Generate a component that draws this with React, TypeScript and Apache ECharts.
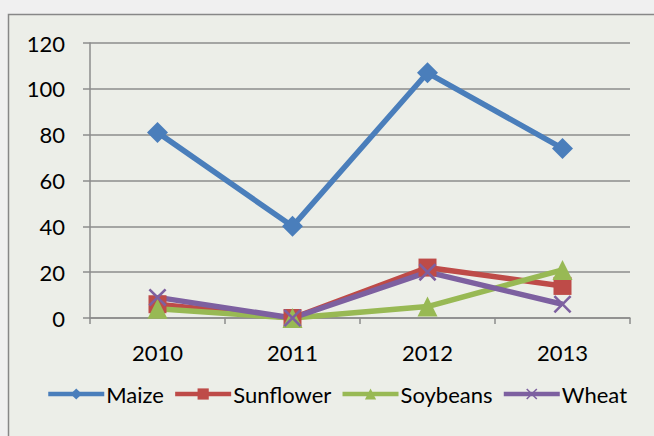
import React, { useEffect, useRef } from "react";
import * as echarts from "echarts";

const categories = ["2010", "2011", "2012", "2013"];
const maize = [81, 40, 107, 74];
const sunflower = [6, 0, 22, 14];
const soybeans = [4, 0, 5, 21];
const wheat = [9, 0, 20, 6];
const seriesNames = ["Maize", "Sunflower", "Soybeans", "Wheat"];

const X_PATH =
  "path://M0,1 L1,0 L5,4 L9,0 L10,1 L6,5 L10,9 L9,10 L5,6 L1,10 L0,9 L4,5 Z";

export default function App() {
  const ref = useRef<HTMLDivElement>(null);
  useEffect(() => {
    if (!ref.current) return;
    const chart = echarts.init(ref.current, null, { renderer: "svg" });
    const font = "Lato, 'Open Sans', sans-serif";
    const mk = (
      name: string,
      data: number[],
      color: string,
      symbol: string,
      size: number
    ) => ({
      name,
      type: "line",
      data,
      symbol,
      symbolSize: size,
      showAllSymbol: true,
      lineStyle: { color, width: 5.5 },
      itemStyle: { color },
      z: 3,
    });
    chart.setOption({
      animation: false,
      backgroundColor: "#f0f0f0",
      textStyle: { fontFamily: font },
      graphic: [
        {
          type: "rect",
          shape: { x: 8.5, y: 14.5, width: 700, height: 500 },
          style: { fill: "#eceee8", stroke: "#878787", lineWidth: 1.5 },
          z: -10,
        },
      ],
      grid: { left: 90, right: 24, top: 43, bottom: 118 },
      xAxis: {
        type: "category",
        data: categories,
        boundaryGap: true,
        axisLine: { lineStyle: { color: "#8c8c8c", width: 1.5 } },
        axisTick: {
          show: true,
          length: 6,
          inside: false,
          lineStyle: { color: "#8c8c8c", width: 1.5 },
        },
        axisLabel: { color: "#000", fontSize: 22, margin: 23, fontFamily: font },
      },
      yAxis: {
        type: "value",
        min: 0,
        max: 120,
        interval: 20,
        axisLine: { show: true, lineStyle: { color: "#8c8c8c", width: 1.5 } },
        axisTick: {
          show: true,
          length: 7,
          lineStyle: { color: "#8c8c8c", width: 1.5 },
        },
        splitLine: { lineStyle: { color: "#8c8c8c", width: 1.5 } },
        axisLabel: { color: "#000", fontSize: 22, margin: 25, fontFamily: font },
      },
      legend: {
        data: seriesNames,
        top: 383,
        left: 46,
        padding: 0,
        itemWidth: 56,
        itemHeight: 14,
        itemGap: 9,
        lineStyle: { width: 4.5 },
        textStyle: {
          color: "#000",
          fontSize: 22,
          fontFamily: font,
          padding: [0, 0, 0, -3],
        },
      },
      series: [
        mk(seriesNames[0], maize, "#4a7ebb", "diamond", 21),
        mk(seriesNames[1], sunflower, "#be4b48", "rect", 18),
        mk(seriesNames[2], soybeans, "#98b954", "triangle", 20),
        mk(seriesNames[3], wheat, "#7d60a0", X_PATH, 18),
      ],
    });
    return () => chart.dispose();
  }, []);
  return (
    <div
      ref={ref}
      style={{ position: "fixed", left: 0, top: 0, width: 654, height: 436 }}
    />
  );
}
